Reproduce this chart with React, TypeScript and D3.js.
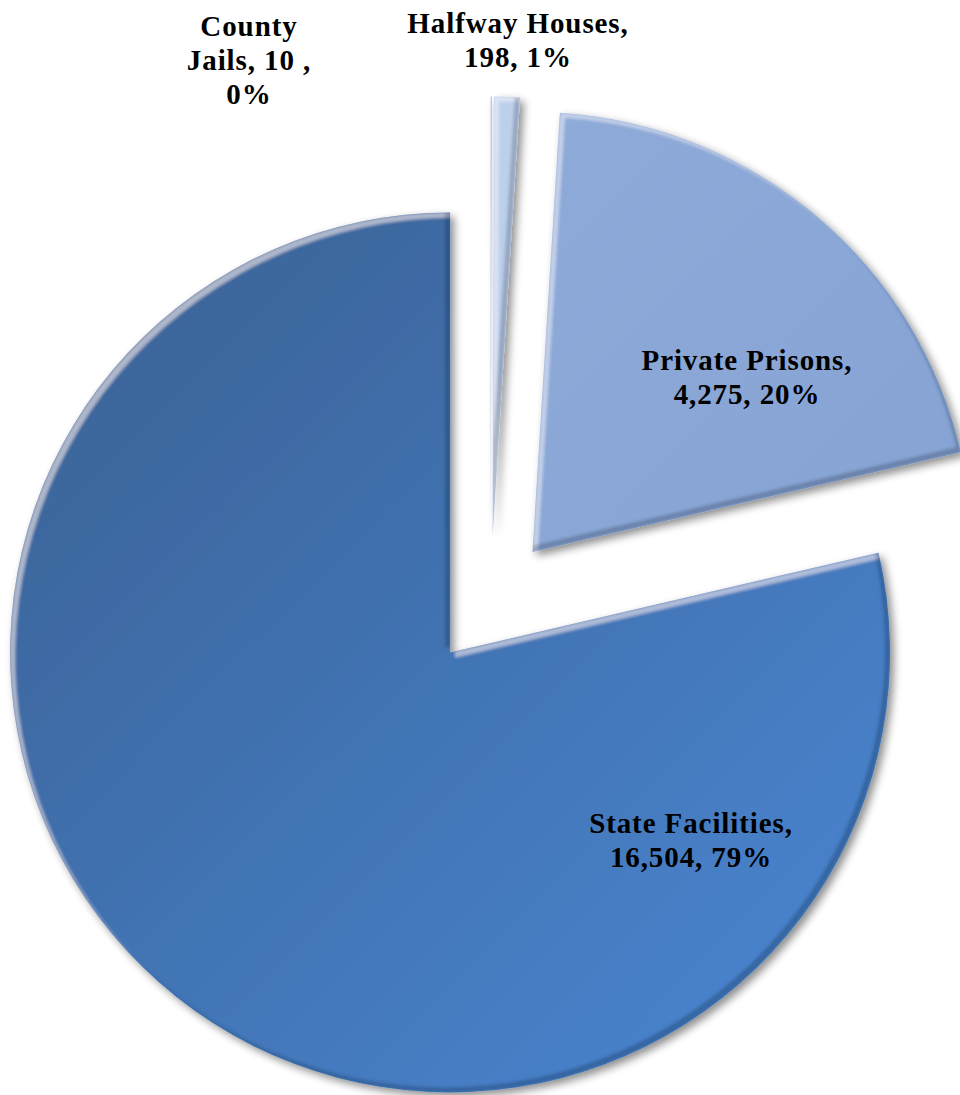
import React from "react";
import * as d3 from "d3";

const categories = ["County Jails", "Halfway Houses", "Private Prisons", "State Facilities"];
const values = [10, 198, 4275, 16504];
const labelLines = [
  ["County", "Jails, 10 ,", "0%"],
  ["Halfway Houses,", "198, 1%"],
  ["Private Prisons,", "4,275, 20%"],
  ["State Facilities,", "16,504, 79%"],
];

// layout (not data)
const W = 960;
const H = 1095;
const CX = 490.5;
const CY = 601.5;
const R = 440;
const EXPLODE = 65;
const LABEL_POS: [number, number][] = [
  [249, 35.5],
  [518, 32.5],
  [747, 370],
  [691, 833],
];
const LINE_H = 34;
const GRADS = [
  ["#c6d6ee", "#aac2e4"],
  ["#c4d5ee", "#a9c1e4"],
  ["#92aedc", "#819fd0"],
  ["#3a6092", "#4a87d4"],
];

export default function App() {
  const pie = d3
    .pie<number>()
    .sort(null)
    .value((d) => d)
    .startAngle(0)
    .endAngle(2 * Math.PI);
  const arcs = pie(values);
  const arc = d3.arc<d3.PieArcDatum<number>>().innerRadius(0).outerRadius(R);

  return (
    <svg
      width={W}
      height={H}
      style={{ position: "absolute", left: 0, top: 0, display: "block" }}
    >
      <defs>
        {GRADS.map((g, i) => (
          <linearGradient
            key={i}
            id={`g${i}`}
            gradientUnits="userSpaceOnUse"
            x1={-R}
            y1={-R}
            x2={R}
            y2={R}
          >
            <stop offset="0%" stopColor={g[0]} />
            <stop offset="100%" stopColor={g[1]} />
          </linearGradient>
        ))}
        <filter
          id="bevel"
          filterUnits="userSpaceOnUse"
          x={-R - 40}
          y={-R - 40}
          width={2 * R + 80}
          height={2 * R + 80}
        >
          <feGaussianBlur in="SourceAlpha" stdDeviation="4" result="sb" />
          <feOffset in="sb" dx="4" dy="4" result="so" />
          <feComponentTransfer in="so" result="shadow">
            <feFuncA type="linear" slope="0.45" />
          </feComponentTransfer>
          <feOffset in="SourceAlpha" dx="5" dy="5" result="ho" />
          <feComposite in="SourceAlpha" in2="ho" operator="out" result="hrim" />
          <feGaussianBlur in="hrim" stdDeviation="1.8" result="hrimb" />
          <feFlood floodColor="#ffffff" floodOpacity="0.4" result="hf" />
          <feComposite in="hf" in2="hrimb" operator="in" result="hl" />
          <feComposite in="hl" in2="SourceAlpha" operator="in" result="hl2" />
          <feOffset in="SourceAlpha" dx="-5" dy="-5" result="do" />
          <feComposite in="SourceAlpha" in2="do" operator="out" result="drim" />
          <feGaussianBlur in="drim" stdDeviation="1.8" result="drimb" />
          <feFlood floodColor="#0a1a30" floodOpacity="0.4" result="df" />
          <feComposite in="df" in2="drimb" operator="in" result="dk" />
          <feComposite in="dk" in2="SourceAlpha" operator="in" result="dk2" />
          <feMerge>
            <feMergeNode in="shadow" />
            <feMergeNode in="SourceGraphic" />
            <feMergeNode in="hl2" />
            <feMergeNode in="dk2" />
          </feMerge>
        </filter>
      </defs>
      <rect width={W} height={H} fill="#ffffff" />
      {arcs.map((a, i) => {
        const mid = (a.startAngle + a.endAngle) / 2;
        const ox = CX + EXPLODE * Math.sin(mid);
        const oy = CY - EXPLODE * Math.cos(mid);
        return (
          <g key={categories[i]} transform={`translate(${ox},${oy})`}>
            <path d={arc(a) || ""} fill={`url(#g${i})`} filter="url(#bevel)" />
          </g>
        );
      })}
      {labelLines.map((lines, i) => (
        <text
          key={`l${i}`}
          x={LABEL_POS[i][0]}
          y={LABEL_POS[i][1]}
          textAnchor="middle"
          fontFamily="'Liberation Serif', serif"
          fontWeight="bold"
          fontSize={29}
          letterSpacing={0.9}
          fill="#000000"
        >
          {lines.map((t, j) => (
            <tspan key={j} x={LABEL_POS[i][0]} y={LABEL_POS[i][1] + j * LINE_H}>
              {t}
            </tspan>
          ))}
        </text>
      ))}
    </svg>
  );
}
